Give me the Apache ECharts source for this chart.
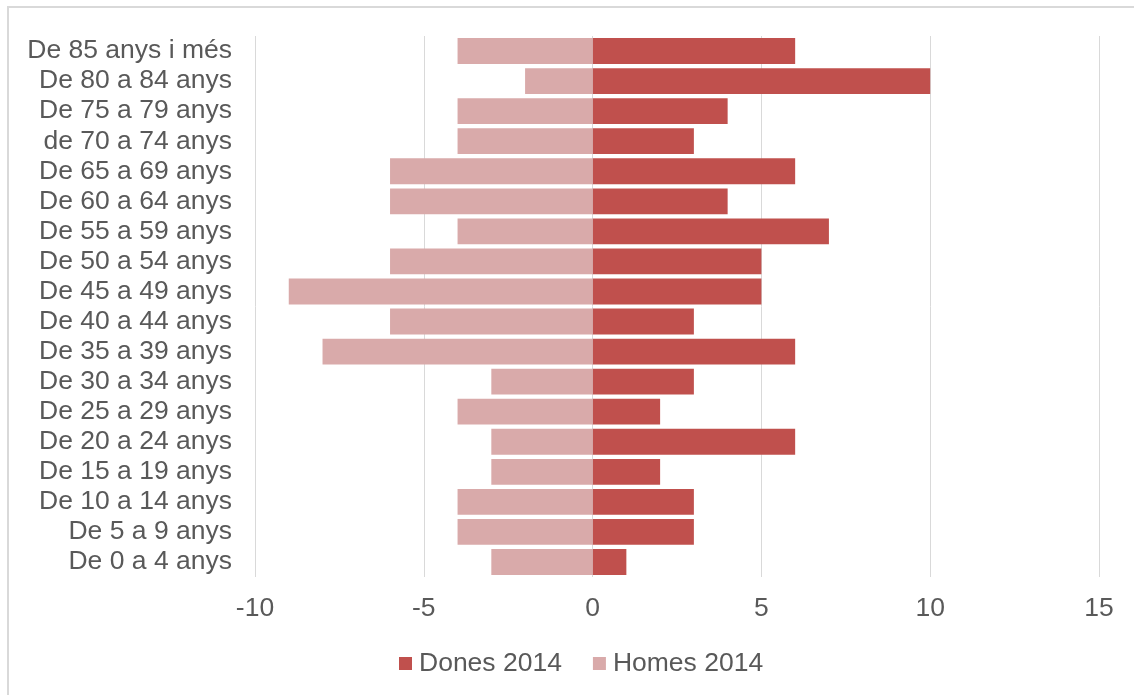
<!DOCTYPE html>
<html>
<head>
<meta charset="utf-8">
<script src="https://cdn.jsdelivr.net/npm/echarts@6/dist/echarts.min.js"></script>
<style>
html,body{margin:0;padding:0;background:#fff;}
#chart{width:1134px;height:695px;}
</style>
</head>
<body>
<div id="chart"></div>
<script>
const categories = ["De 0 a 4 anys","De 5 a 9 anys","De 10 a 14 anys","De 15 a 19 anys","De 20 a 24 anys","De 25 a 29 anys","De 30 a 34 anys","De 35 a 39 anys","De 40 a 44 anys","De 45 a 49 anys","De 50 a 54 anys","De 55 a 59 anys","De 60 a 64 anys","De 65 a 69 anys","de 70 a 74 anys","De 75 a 79 anys","De 80 a 84 anys","De 85 anys i més"];
const dones2014 = [1,3,3,2,6,2,3,6,3,5,5,7,4,6,3,4,10,6];
const homes2014 = [-3,-4,-4,-3,-3,-4,-3,-8,-6,-9,-6,-4,-6,-6,-4,-4,-2,-4];
const xTicks = {min:-10, max:15, interval:5};

const chart = echarts.init(document.getElementById('chart'));
const font = 'Liberation Sans, Arial, sans-serif';
const fs = 26.5;
chart.setOption({
  animation:false,
  backgroundColor:'#fff',
  graphic:[{type:'rect', shape:{x:8,y:7,width:1140,height:700}, style:{fill:'none', stroke:'#d9d9d9', lineWidth:2}, silent:true}],
  grid:{left:255, right:35, top:36, bottom:118},
  legend:{
    bottom:13, left:394,
    itemWidth:13, itemHeight:13, itemGap:31,
    icon:'rect',
    textStyle:{fontFamily:font, fontSize:fs, color:'#595959', padding:[0,0,0,2]},
    data:['Dones 2014','Homes 2014']
  },
  xAxis:{
    type:'value', min:xTicks.min, max:xTicks.max, interval:xTicks.interval,
    axisLine:{show:false}, axisTick:{show:false},
    axisLabel:{fontFamily:font, fontSize:fs, color:'#595959', margin:18},
    splitLine:{show:true, lineStyle:{color:'#d9d9d9', width:1}}
  },
  yAxis:{
    type:'category', data:categories,
    axisLine:{show:false}, axisTick:{show:false},
    axisLabel:{fontFamily:font, fontSize:fs, color:'#595959', margin:23, interval:0}
  },
  series:[
    {name:'Dones 2014', type:'bar', stack:'t', data:dones2014, barCategoryGap:'14%', itemStyle:{color:'#C0504D'}},
    {name:'Homes 2014', type:'bar', stack:'t', data:homes2014, barCategoryGap:'14%', itemStyle:{color:'#D9AAAA'}}
  ]
});
</script>
</body>
</html>
